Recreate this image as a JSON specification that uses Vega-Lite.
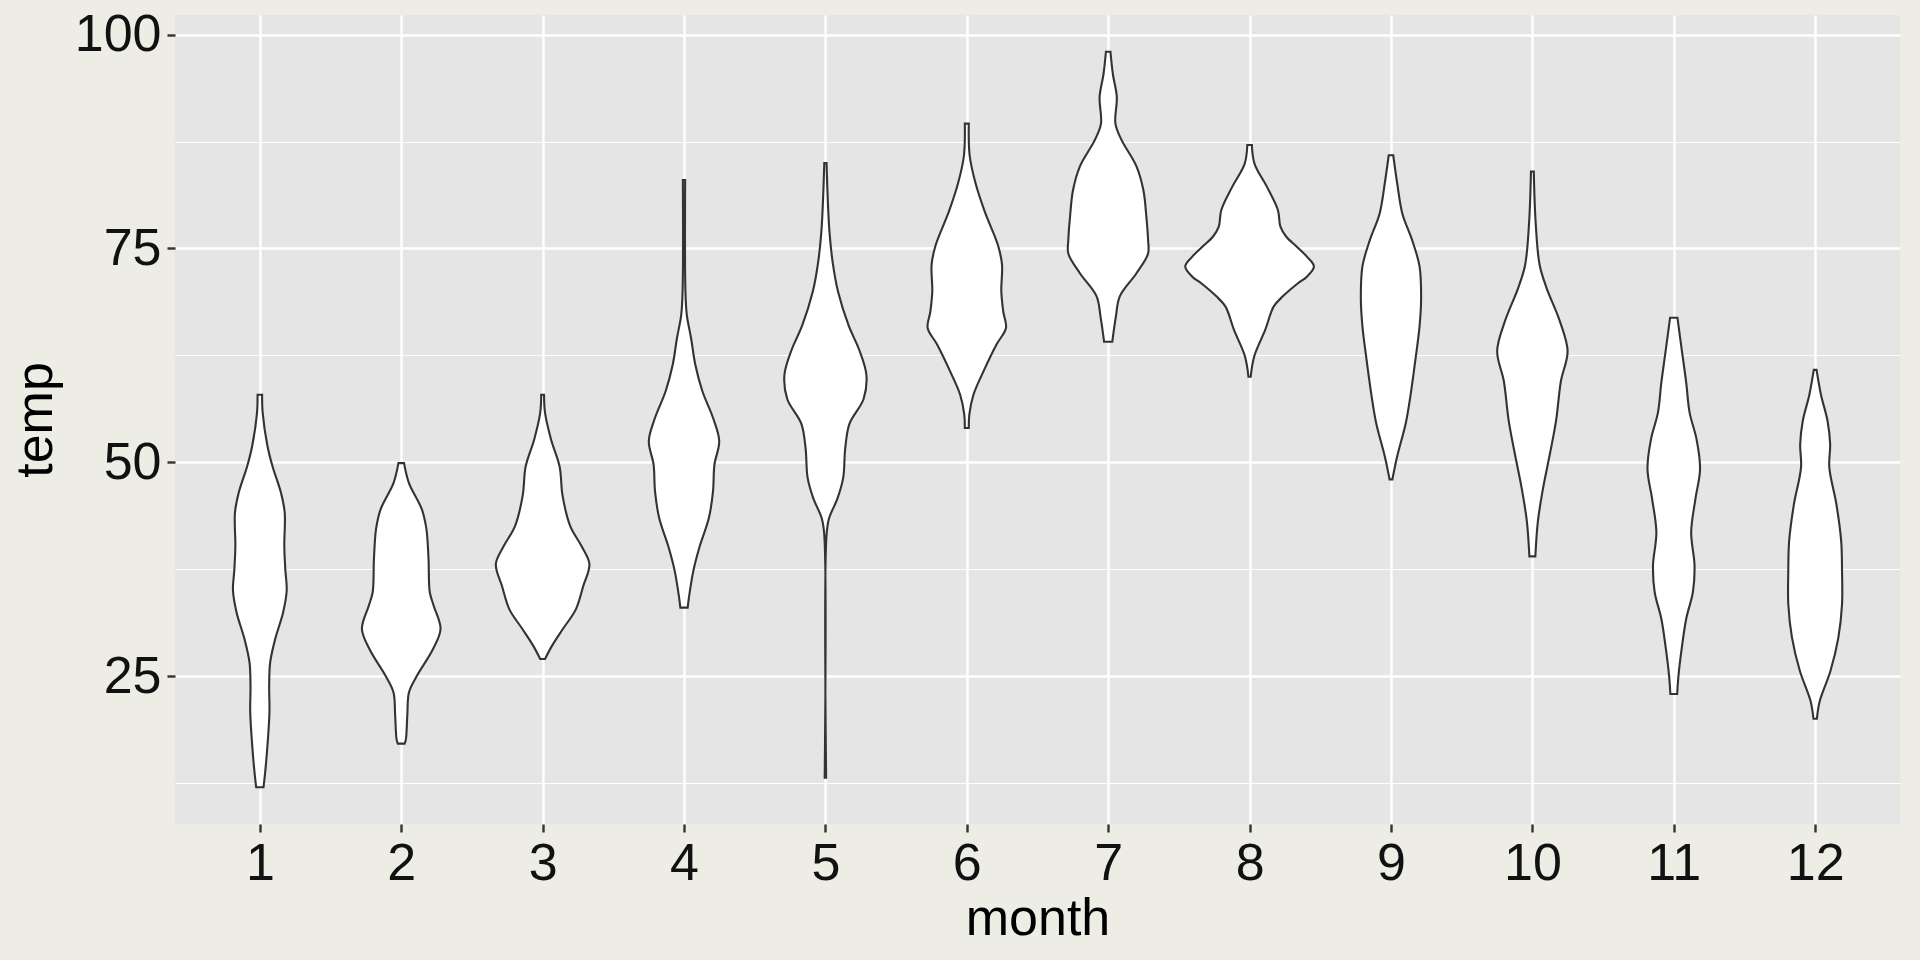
{
"$schema": "https://vega.github.io/schema/vega-lite/v6.json",
"width": 1725, "height": 809,
"autosize": {"type": "none"},
"padding": {"left": 175, "top": 15, "right": 20, "bottom": 136},
"background": "#EDEDE6",
"config": {"view": {"fill": "#E5E5E5", "stroke": null}, "font": "Liberation Sans"},
"data": {"values": [
{"month":1,"temp":12.0,"lo":0.974,"hi":1.026},
{"month":1,"temp":13.8,"lo":0.962,"hi":1.038},
{"month":1,"temp":16.9,"lo":0.946,"hi":1.054},
{"month":1,"temp":20.8,"lo":0.932,"hi":1.068},
{"month":1,"temp":23.9,"lo":0.934,"hi":1.066},
{"month":1,"temp":26.6,"lo":0.927,"hi":1.073},
{"month":1,"temp":29.3,"lo":0.892,"hi":1.108},
{"month":1,"temp":32.4,"lo":0.836,"hi":1.164},
{"month":1,"temp":35.0,"lo":0.81,"hi":1.19},
{"month":1,"temp":37.5,"lo":0.82,"hi":1.18},
{"month":1,"temp":40.2,"lo":0.827,"hi":1.173},
{"month":1,"temp":44.1,"lo":0.824,"hi":1.176},
{"month":1,"temp":46.4,"lo":0.85,"hi":1.15},
{"month":1,"temp":49.5,"lo":0.91,"hi":1.09},
{"month":1,"temp":51.9,"lo":0.946,"hi":1.054},
{"month":1,"temp":55.8,"lo":0.98,"hi":1.02},
{"month":1,"temp":57.9,"lo":0.984,"hi":1.016},
{"month":2,"temp":17.1,"lo":1.976,"hi":2.024},
{"month":2,"temp":17.6,"lo":1.967,"hi":2.033},
{"month":2,"temp":20.4,"lo":1.957,"hi":2.043},
{"month":2,"temp":23.1,"lo":1.945,"hi":2.055},
{"month":2,"temp":25.0,"lo":1.89,"hi":2.11},
{"month":2,"temp":28.1,"lo":1.777,"hi":2.223},
{"month":2,"temp":30.5,"lo":1.722,"hi":2.278},
{"month":2,"temp":33.2,"lo":1.77,"hi":2.23},
{"month":2,"temp":34.8,"lo":1.798,"hi":2.202},
{"month":2,"temp":38.7,"lo":1.807,"hi":2.193},
{"month":2,"temp":42.2,"lo":1.822,"hi":2.178},
{"month":2,"temp":44.5,"lo":1.854,"hi":2.146},
{"month":2,"temp":47.6,"lo":1.946,"hi":2.054},
{"month":2,"temp":49.9,"lo":1.98,"hi":2.02},
{"month":3,"temp":27.0,"lo":2.983,"hi":3.017},
{"month":3,"temp":28.5,"lo":2.935,"hi":3.065},
{"month":3,"temp":30.5,"lo":2.857,"hi":3.143},
{"month":3,"temp":32.8,"lo":2.765,"hi":3.235},
{"month":3,"temp":35.5,"lo":2.713,"hi":3.287},
{"month":3,"temp":38.1,"lo":2.669,"hi":3.331},
{"month":3,"temp":40.2,"lo":2.725,"hi":3.275},
{"month":3,"temp":42.5,"lo":2.804,"hi":3.196},
{"month":3,"temp":46.1,"lo":2.859,"hi":3.141},
{"month":3,"temp":49.5,"lo":2.88,"hi":3.12},
{"month":3,"temp":52.7,"lo":2.941,"hi":3.059},
{"month":3,"temp":55.8,"lo":2.983,"hi":3.017},
{"month":3,"temp":57.9,"lo":2.99,"hi":3.01},
{"month":4,"temp":33.0,"lo":3.974,"hi":4.026},
{"month":4,"temp":34.2,"lo":3.965,"hi":4.035},
{"month":4,"temp":37.3,"lo":3.934,"hi":4.066},
{"month":4,"temp":40.0,"lo":3.892,"hi":4.108},
{"month":4,"temp":43.5,"lo":3.824,"hi":4.176},
{"month":4,"temp":46.6,"lo":3.795,"hi":4.205},
{"month":4,"temp":49.7,"lo":3.785,"hi":4.215},
{"month":4,"temp":52.5,"lo":3.751,"hi":4.249},
{"month":4,"temp":55.2,"lo":3.795,"hi":4.205},
{"month":4,"temp":58.3,"lo":3.87,"hi":4.13},
{"month":4,"temp":61.4,"lo":3.92,"hi":4.08},
{"month":4,"temp":64.5,"lo":3.95,"hi":4.05},
{"month":4,"temp":67.2,"lo":3.98,"hi":4.02},
{"month":4,"temp":70.0,"lo":3.99,"hi":4.01},
{"month":4,"temp":83.0,"lo":3.992,"hi":4.008},
{"month":5,"temp":13.1,"lo":4.995,"hi":5.005},
{"month":5,"temp":41.5,"lo":4.992,"hi":5.008},
{"month":5,"temp":43.4,"lo":4.975,"hi":5.025},
{"month":5,"temp":45.8,"lo":4.914,"hi":5.086},
{"month":5,"temp":48.2,"lo":4.874,"hi":5.126},
{"month":5,"temp":51.6,"lo":4.86,"hi":5.14},
{"month":5,"temp":54.5,"lo":4.83,"hi":5.17},
{"month":5,"temp":57.4,"lo":4.73,"hi":5.27},
{"month":5,"temp":60.2,"lo":4.71,"hi":5.29},
{"month":5,"temp":63.1,"lo":4.76,"hi":5.24},
{"month":5,"temp":66.0,"lo":4.836,"hi":5.164},
{"month":5,"temp":69.9,"lo":4.91,"hi":5.09},
{"month":5,"temp":73.2,"lo":4.947,"hi":5.053},
{"month":5,"temp":77.1,"lo":4.972,"hi":5.028},
{"month":5,"temp":85.0,"lo":4.992,"hi":5.008},
{"month":6,"temp":54.0,"lo":5.986,"hi":6.014},
{"month":6,"temp":55.6,"lo":5.982,"hi":6.018},
{"month":6,"temp":57.9,"lo":5.953,"hi":6.047},
{"month":6,"temp":60.6,"lo":5.883,"hi":6.117},
{"month":6,"temp":63.8,"lo":5.789,"hi":6.211},
{"month":6,"temp":65.7,"lo":5.723,"hi":6.277},
{"month":6,"temp":67.6,"lo":5.742,"hi":6.258},
{"month":6,"temp":70.0,"lo":5.756,"hi":6.244},
{"month":6,"temp":73.1,"lo":5.751,"hi":6.249},
{"month":6,"temp":75.4,"lo":5.78,"hi":6.22},
{"month":6,"temp":79.3,"lo":5.873,"hi":6.127},
{"month":6,"temp":82.8,"lo":5.941,"hi":6.059},
{"month":6,"temp":85.9,"lo":5.98,"hi":6.02},
{"month":6,"temp":89.6,"lo":5.986,"hi":6.014},
{"month":7,"temp":64.1,"lo":6.971,"hi":7.029},
{"month":7,"temp":67.0,"lo":6.946,"hi":7.054},
{"month":7,"temp":69.4,"lo":6.918,"hi":7.082},
{"month":7,"temp":72.1,"lo":6.8,"hi":7.2},
{"month":7,"temp":74.4,"lo":6.718,"hi":7.282},
{"month":7,"temp":76.0,"lo":6.718,"hi":7.282},
{"month":7,"temp":78.7,"lo":6.73,"hi":7.27},
{"month":7,"temp":81.8,"lo":6.751,"hi":7.249},
{"month":7,"temp":84.6,"lo":6.8,"hi":7.2},
{"month":7,"temp":87.7,"lo":6.906,"hi":7.094},
{"month":7,"temp":89.6,"lo":6.949,"hi":7.051},
{"month":7,"temp":92.7,"lo":6.939,"hi":7.061},
{"month":7,"temp":95.4,"lo":6.967,"hi":7.033},
{"month":7,"temp":98.0,"lo":6.984,"hi":7.016},
{"month":8,"temp":60.0,"lo":7.992,"hi":8.008},
{"month":8,"temp":62.4,"lo":7.967,"hi":8.033},
{"month":8,"temp":65.5,"lo":7.889,"hi":8.111},
{"month":8,"temp":68.2,"lo":7.83,"hi":8.17},
{"month":8,"temp":69.4,"lo":7.765,"hi":8.235},
{"month":8,"temp":70.9,"lo":7.66,"hi":8.34},
{"month":8,"temp":71.7,"lo":7.595,"hi":8.405},
{"month":8,"temp":72.9,"lo":7.545,"hi":8.455},
{"month":8,"temp":74.05,"lo":7.595,"hi":8.405},
{"month":8,"temp":75.2,"lo":7.666,"hi":8.334},
{"month":8,"temp":76.4,"lo":7.742,"hi":8.258},
{"month":8,"temp":77.55,"lo":7.782,"hi":8.218},
{"month":8,"temp":79.5,"lo":7.8,"hi":8.2},
{"month":8,"temp":82.2,"lo":7.877,"hi":8.123},
{"month":8,"temp":84.9,"lo":7.965,"hi":8.035},
{"month":8,"temp":87.1,"lo":7.984,"hi":8.016},
{"month":9,"temp":48.0,"lo":8.99,"hi":9.01},
{"month":9,"temp":50.7,"lo":8.956,"hi":9.044},
{"month":9,"temp":54.6,"lo":8.895,"hi":9.105},
{"month":9,"temp":57.7,"lo":8.863,"hi":9.137},
{"month":9,"temp":62.4,"lo":8.824,"hi":9.176},
{"month":9,"temp":65.9,"lo":8.798,"hi":9.202},
{"month":9,"temp":69.0,"lo":8.787,"hi":9.213},
{"month":9,"temp":72.9,"lo":8.798,"hi":9.202},
{"month":9,"temp":76.0,"lo":8.851,"hi":9.149},
{"month":9,"temp":79.1,"lo":8.92,"hi":9.08},
{"month":9,"temp":82.6,"lo":8.956,"hi":9.044},
{"month":9,"temp":85.9,"lo":8.984,"hi":9.016},
{"month":10,"temp":39.0,"lo":9.979,"hi":10.021},
{"month":10,"temp":43.1,"lo":9.961,"hi":10.039},
{"month":10,"temp":47.0,"lo":9.924,"hi":10.076},
{"month":10,"temp":50.9,"lo":9.877,"hi":10.123},
{"month":10,"temp":54.8,"lo":9.833,"hi":10.167},
{"month":10,"temp":59.5,"lo":9.798,"hi":10.202},
{"month":10,"temp":63.0,"lo":9.751,"hi":10.249},
{"month":10,"temp":66.5,"lo":9.806,"hi":10.194},
{"month":10,"temp":70.4,"lo":9.9,"hi":10.1},
{"month":10,"temp":73.1,"lo":9.949,"hi":10.051},
{"month":10,"temp":78.1,"lo":9.977,"hi":10.023},
{"month":10,"temp":84.0,"lo":9.99,"hi":10.01},
{"month":11,"temp":22.9,"lo":10.976,"hi":11.024},
{"month":11,"temp":25.0,"lo":10.967,"hi":11.033},
{"month":11,"temp":28.2,"lo":10.944,"hi":11.056},
{"month":11,"temp":31.7,"lo":10.912,"hi":11.088},
{"month":11,"temp":34.8,"lo":10.865,"hi":11.135},
{"month":11,"temp":37.9,"lo":10.853,"hi":11.147},
{"month":11,"temp":41.8,"lo":10.877,"hi":11.123},
{"month":11,"temp":45.7,"lo":10.847,"hi":11.153},
{"month":11,"temp":49.2,"lo":10.814,"hi":11.186},
{"month":11,"temp":52.7,"lo":10.839,"hi":11.161},
{"month":11,"temp":55.8,"lo":10.888,"hi":11.112},
{"month":11,"temp":59.3,"lo":10.912,"hi":11.088},
{"month":11,"temp":63.2,"lo":10.944,"hi":11.056},
{"month":11,"temp":66.9,"lo":10.974,"hi":11.026},
{"month":12,"temp":20.0,"lo":11.988,"hi":12.012},
{"month":12,"temp":22.1,"lo":11.967,"hi":12.033},
{"month":12,"temp":25.6,"lo":11.892,"hi":12.108},
{"month":12,"temp":29.5,"lo":11.836,"hi":12.164},
{"month":12,"temp":33.4,"lo":11.81,"hi":12.19},
{"month":12,"temp":37.3,"lo":11.81,"hi":12.19},
{"month":12,"temp":40.8,"lo":11.816,"hi":12.184},
{"month":12,"temp":45.1,"lo":11.85,"hi":12.15},
{"month":12,"temp":49.4,"lo":11.9,"hi":12.1},
{"month":12,"temp":52.1,"lo":11.894,"hi":12.106},
{"month":12,"temp":54.8,"lo":11.912,"hi":12.088},
{"month":12,"temp":57.9,"lo":11.959,"hi":12.041},
{"month":12,"temp":60.8,"lo":11.99,"hi":12.01}
]},
"mark": {"type": "area", "orient": "horizontal", "interpolate": "catmull-rom", "fill": "white", "stroke": "#333333", "strokeWidth": 2.1},
"encoding": {
  "y": {"field": "temp", "type": "quantitative",
    "scale": {"domain": [7.7, 102.3], "nice": false, "zero": false},
    "axis": {"title": "temp", "values": [12.5, 25, 37.5, 50, 62.5, 75, 87.5, 100],
      "labelExpr": "datum.value % 25 === 0 ? datum.label : ''",
      "labelOverlap": false, "labelFlush": false,
      "grid": true, "gridColor": "white",
      "gridWidth": {"condition": {"test": "datum.value % 25 === 0", "value": 2.4}, "value": 1.2},
      "tickOpacity": {"condition": {"test": "datum.value % 25 === 0", "value": 1}, "value": 0},
      "domain": false, "tickColor": "#333333", "tickSize": 8, "tickWidth": 2.4,
      "labelFontSize": 52, "labelColor": "#111111", "labelPadding": 6,
      "titleFontSize": 52, "titleFontWeight": "normal", "titleColor": "#000000", "titlePadding": 12}},
  "x": {"field": "lo", "type": "quantitative",
    "scale": {"domain": [0.4, 12.6], "nice": false, "zero": false},
    "axis": {"title": "month", "values": [1,2,3,4,5,6,7,8,9,10,11,12], "format": "d",
      "labelOverlap": false, "labelFlush": false,
      "grid": true, "gridColor": "white", "gridWidth": 2.4,
      "domain": false, "tickColor": "#333333", "tickSize": 8, "tickWidth": 2.4,
      "labelFontSize": 52, "labelColor": "#111111", "labelPadding": 6,
      "titleFontSize": 52, "titleFontWeight": "normal", "titleColor": "#000000", "titlePadding": 4}},
  "x2": {"field": "hi"},
  "detail": {"field": "month"}
}
}
